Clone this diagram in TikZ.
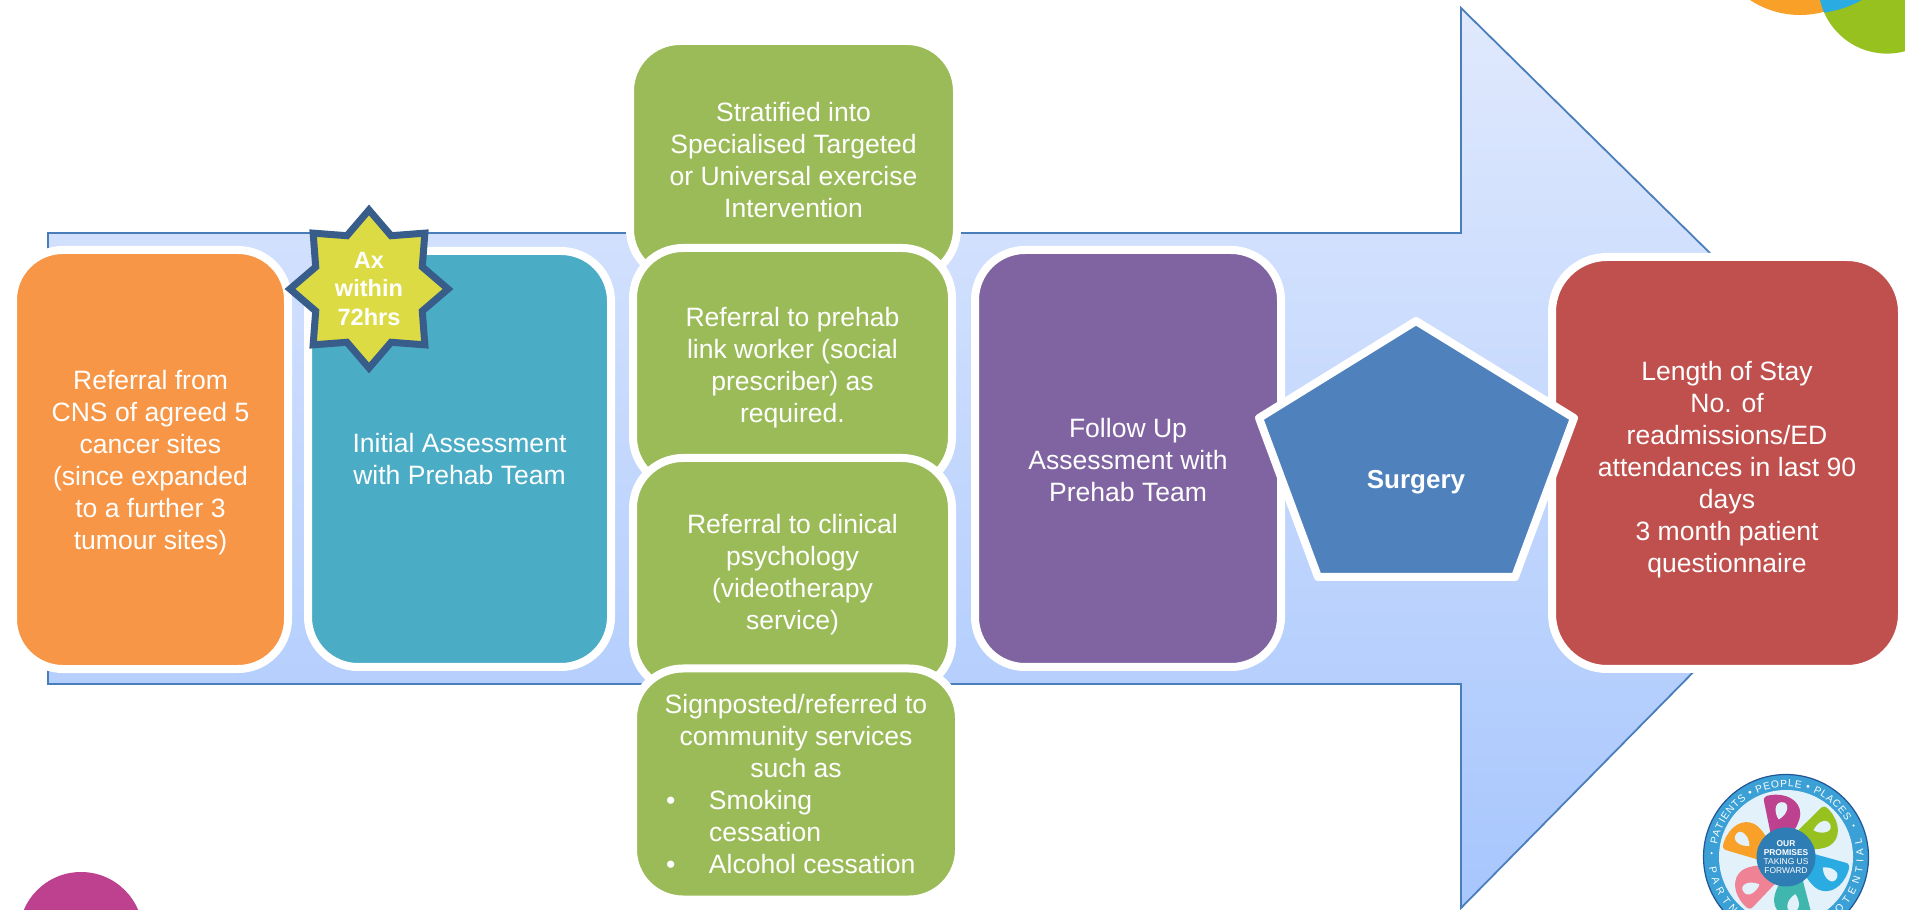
\documentclass[tikz,border=0pt]{standalone}
\usepackage{fontspec}
\setmainfont{Liberation Sans}
\usepackage{xcolor}
\usetikzlibrary{shapes.geometric,decorations.text,shadows}

\definecolor{arrowtop}{RGB}{224,233,253}
\definecolor{arrowbot}{RGB}{167,198,253}
\definecolor{arrowline}{RGB}{74,126,187}
\definecolor{referralcol}{RGB}{247,150,70}
\definecolor{assesscol}{RGB}{75,172,198}
\definecolor{stepcol}{RGB}{155,187,89}
\definecolor{followcol}{RGB}{128,100,162}
\definecolor{outcomecol}{RGB}{192,80,77}
\definecolor{surgerycol}{RGB}{79,129,189}
\definecolor{badgecol}{RGB}{220,219,67}
\definecolor{badgeline}{RGB}{56,93,138}
\definecolor{ringcol}{RGB}{58,160,214}
\definecolor{ringline}{RGB}{34,84,150}
\definecolor{discol}{RGB}{226,241,250}
\definecolor{hubcol}{RGB}{47,125,181}
\definecolor{cornerorange}{RGB}{248,160,40}
\definecolor{cornerblue}{RGB}{42,171,226}
\definecolor{cornergreen}{RGB}{150,193,31}
\definecolor{cornerpink}{RGB}{190,65,144}
\definecolor{petalrose}{RGB}{240,130,150}
\definecolor{petalteal}{RGB}{63,182,174}

\begin{document}
\begin{tikzpicture}[
softshadow/.style={drop shadow={shadow xshift=0cm, shadow yshift=-.025cm, opacity=.18, fill=black}},
panel/.style={rectangle, draw=white, line width=.08cm, rounded corners=.5cm, text=white, align=center, inner sep=0pt, softshadow, font=\fontsize{7.55}{9.1}\selectfont},
paneltext/.style={text=white, align=center, inner sep=0pt, font=\fontsize{7.55}{9.1}\selectfont},
badge/.style={star, star points=8, star point ratio=1.37, draw=badgeline, fill=badgecol, line width=.07cm, minimum size=1.58cm, inner sep=0pt},
boldtext/.style={text=white, align=center, inner sep=0pt, font=\bfseries\fontsize{6.7}{8.2}\selectfont},
hubtext/.style={text=white, align=center, inner sep=0pt, font=\fontsize{2.4}{2.55}\selectfont},
ringtext/.style={decorate, decoration={text along path, text align={fit to path}, text={|\ringfont|#1}}}]

\newcommand{\ringfont}{\fontsize{2.9}{3}\selectfont\color{white}}

\clip (0,0) rectangle (19.05,9.09);

\draw[arrowline, line width=.018cm, top color=arrowtop, bottom color=arrowbot]
  (0.48,6.76) -- (14.61,6.76) -- (14.61,9.01) -- (19.11,4.58) -- (14.61,0.01) -- (14.61,2.25) -- (0.48,2.25) -- cycle;

\fill[cornerorange] (18.00,9.85) circle (.91);
\fill[cornergreen] (18.87,9.24) circle (.686);
\begin{scope}
\clip (18.87,9.24) circle (.686);
\fill[cornerblue] (18.10,10.01) circle (1.055);
\end{scope}
\fill[cornerpink] (0.81,-0.25) circle (.62);

\node[panel, fill=referralcol, minimum width=2.75cm, minimum height=4.19cm] (referral) at (1.505,4.495) {};
\node[paneltext] (referraltext) at (1.505,4.46)
  {Referral from\\CNS of agreed 5\\cancer sites\\(since expanded\\to a further 3\\tumour sites)};
\node[panel, fill=assesscol, minimum width=3.03cm, minimum height=4.16cm] (initial) at (4.595,4.50)
  {Initial Assessment\\with Prehab Team};

\node[panel, fill=stepcol, minimum width=3.27cm, minimum height=2.38cm] (stratified) at (7.935,7.49)
  {Stratified into\\Specialised Targeted\\or Universal exercise\\Intervention};
\node[panel, fill=stepcol, minimum width=3.19cm, minimum height=2.39cm] (linkworker) at (7.925,5.415)
  {Referral to prehab\\link worker (social\\prescriber) as\\required.};
\node[panel, fill=stepcol, minimum width=3.19cm, minimum height=2.33cm] (psychology) at (7.925,3.345)
  {Referral to clinical\\psychology\\(videotherapy\\service)};
\node[panel, fill=stepcol, minimum width=3.26cm, minimum height=2.31cm] (community) at (7.96,1.25)
  {Signposted/referred to\\community services\\such as\\
   \makebox[2.6cm][l]{\makebox[.43cm][l]{•}Smoking}\\
   \makebox[2.6cm][l]{\hspace{.43cm}cessation}\\
   \makebox[2.6cm][l]{\makebox[.43cm][l]{•}Alcohol cessation}};

\node[panel, fill=followcol, minimum width=3.06cm, minimum height=4.17cm] (followup) at (11.28,4.505) {};
\node[paneltext] (followuptext) at (11.28,4.49)
  {Follow Up\\Assessment with\\Prehab Team};
\node[panel, fill=outcomecol, rounded corners=.55cm, minimum width=3.5cm, minimum height=4.12cm] (outcome) at (17.27,4.46) {};
\node[paneltext] (outcometext) at (17.27,4.39)
  {Length of Stay\\No. of\\readmissions/ED\\attendances in last 90\\days\\3 month patient\\questionnaire};

\node[badge] (ax) at (3.69,6.20) {};
\node[boldtext] (axtext) at (ax) {Ax\\within\\72hrs};

\coordinate (p1) at (14.16,5.88);
\coordinate (p2) at (15.74,4.91);
\coordinate (p3) at (15.15,3.32);
\coordinate (p4) at (13.18,3.32);
\coordinate (p5) at (12.59,4.91);
\draw[white, fill=surgerycol, line width=.08cm, line join=round, softshadow] (p1) -- (p2) -- (p3) -- (p4) -- (p5) -- cycle;
\node[boldtext, font=\bfseries\fontsize{7.4}{8.5}\selectfont] (surgery) at (14.16,4.265) {Surgery};

\begin{scope}[shift={(17.86,0.52)}]
\fill[ringcol, draw=ringline, line width=.012cm] (0,0) circle (.825);
\fill[discol] (0,0) circle (.67);
\fill[white] (177:.745) circle (.012);
\fill[white] (25:.745) circle (.012);
\path[ringtext={PATIENTS • PEOPLE • PLACES}] (170:.70) arc (170:31:.70);
\path[ringtext={PARTNERSHIPS • POTENTIAL}] (188:.775) arc (188:374:.775);
\foreach \ang/\col in {95/cornerpink, 38/cornergreen, -22/cornerblue, -82/petalteal, -140/petalrose, 157/cornerorange}{
  \begin{scope}[rotate=\ang]
  \fill[\col] (.22,.13) -- (.57,.17) .. controls (.61,.18) and (.63,.15) .. (.63,.10) .. controls (.64,-.06) and (.55,-.19) .. (.42,-.18) .. controls (.34,-.17) and (.28,-.12) .. (.22,-.08) -- cycle;
  \fill[discol] (.38,.04) .. controls (.43,-.07) and (.55,-.09) .. (.55,0) .. controls (.55,.07) and (.45,.08) .. (.38,.04) -- cycle;
  \end{scope}
}
\node[circle, fill=hubcol, minimum size=.59cm, inner sep=0pt] (hub) at (0,0) {};
\node[hubtext] (hubwords) at (hub) {\textbf{OUR}\\\textbf{PROMISES}\\TAKING US\\FORWARD};
\end{scope}

\end{tikzpicture}
\end{document}
